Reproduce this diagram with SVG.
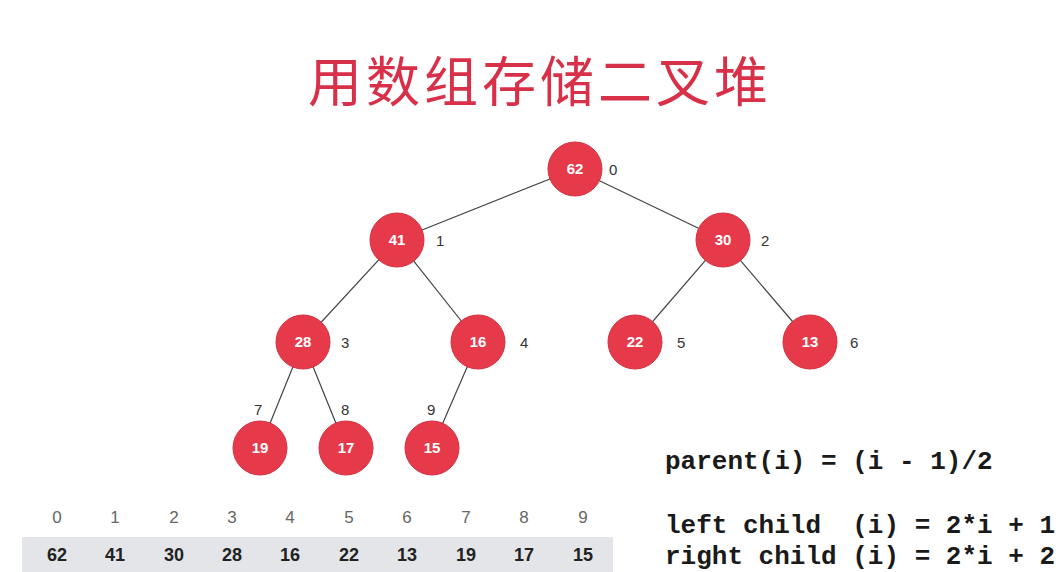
<svg xmlns="http://www.w3.org/2000/svg" width="1064" height="572" viewBox="0 0 1064 572">
<style>
.node circle{fill:#e63a4b;stroke:#d2303f;stroke-width:1}
.node text{font-family:"Liberation Sans",Arial,sans-serif;font-size:15px;font-weight:bold;fill:#ffffff;text-anchor:middle}
.idx{font-family:"Liberation Sans",Arial,sans-serif;font-size:15px;fill:#333333}
.edges line{stroke:#444444;stroke-width:1.2}
.ai{font-family:"Liberation Sans",Arial,sans-serif;font-size:17px;fill:#666666;text-anchor:middle}
.av{font-family:"Liberation Sans",Arial,sans-serif;font-size:18px;font-weight:bold;fill:#222222;text-anchor:middle}
.f{font-family:"Liberation Mono","DejaVu Sans Mono",monospace;font-size:26px;font-weight:bold;fill:#1a1a1a;white-space:pre}
</style>
<rect width="1064" height="572" fill="#ffffff"/>
<text x="540" y="102" font-family="'Noto Sans CJK SC',sans-serif" font-size="54" fill="#d9304a" text-anchor="middle" letter-spacing="4">用数组存储二叉堆</text>
<g class="edges">
<line x1="575" y1="169" x2="397" y2="240"/>
<line x1="575" y1="169" x2="723" y2="240"/>
<line x1="397" y1="240" x2="303" y2="342"/>
<line x1="397" y1="240" x2="478" y2="342"/>
<line x1="723" y1="240" x2="635" y2="342"/>
<line x1="723" y1="240" x2="810" y2="342"/>
<line x1="303" y1="342" x2="260" y2="448"/>
<line x1="303" y1="342" x2="346" y2="448"/>
<line x1="478" y1="342" x2="432" y2="448"/>
</g>
<g id="n0" class="node"><circle cx="575" cy="169" r="27"/><text x="575" y="174">62</text></g>
<g id="n1" class="node"><circle cx="397" cy="240" r="27"/><text x="397" y="245">41</text></g>
<g id="n2" class="node"><circle cx="723" cy="240" r="27"/><text x="723" y="245">30</text></g>
<g id="n3" class="node"><circle cx="303" cy="342" r="27"/><text x="303" y="347">28</text></g>
<g id="n4" class="node"><circle cx="478" cy="342" r="27"/><text x="478" y="347">16</text></g>
<g id="n5" class="node"><circle cx="635" cy="342" r="27"/><text x="635" y="347">22</text></g>
<g id="n6" class="node"><circle cx="810" cy="342" r="27"/><text x="810" y="347">13</text></g>
<g id="n7" class="node"><circle cx="260" cy="448" r="27"/><text x="260" y="453">19</text></g>
<g id="n8" class="node"><circle cx="346" cy="448" r="27"/><text x="346" y="453">17</text></g>
<g id="n9" class="node"><circle cx="432" cy="448" r="27"/><text x="432" y="453">15</text></g>
<g id="labels">
<text class="idx" x="609" y="175">0</text>
<text class="idx" x="436" y="246">1</text>
<text class="idx" x="761" y="246">2</text>
<text class="idx" x="341" y="348">3</text>
<text class="idx" x="520" y="348">4</text>
<text class="idx" x="677" y="348">5</text>
<text class="idx" x="850" y="348">6</text>
<text class="idx" x="254" y="415">7</text>
<text class="idx" x="341" y="415">8</text>
<text class="idx" x="427" y="415">9</text>
</g>
<g id="array">
<rect x="22" y="537" width="591" height="35" fill="#e3e5e8"/>
<text class="ai" x="57" y="523">0</text><text class="ai" x="115" y="523">1</text><text class="ai" x="174" y="523">2</text><text class="ai" x="232" y="523">3</text><text class="ai" x="290" y="523">4</text><text class="ai" x="349" y="523">5</text><text class="ai" x="407" y="523">6</text><text class="ai" x="466" y="523">7</text><text class="ai" x="524" y="523">8</text><text class="ai" x="583" y="523">9</text>
<text class="av" x="57" y="561">62</text><text class="av" x="115" y="561">41</text><text class="av" x="174" y="561">30</text><text class="av" x="232" y="561">28</text><text class="av" x="290" y="561">16</text><text class="av" x="349" y="561">22</text><text class="av" x="407" y="561">13</text><text class="av" x="466" y="561">19</text><text class="av" x="524" y="561">17</text><text class="av" x="583" y="561">15</text>
</g>
<g id="formulas">
<text class="f" x="665" y="469">parent(i) = (i - 1)/2</text>
<text class="f" x="665" y="533">left child  (i) = 2*i + 1</text>
<text class="f" x="665" y="564">right child (i) = 2*i + 2</text>
</g>
</svg>
